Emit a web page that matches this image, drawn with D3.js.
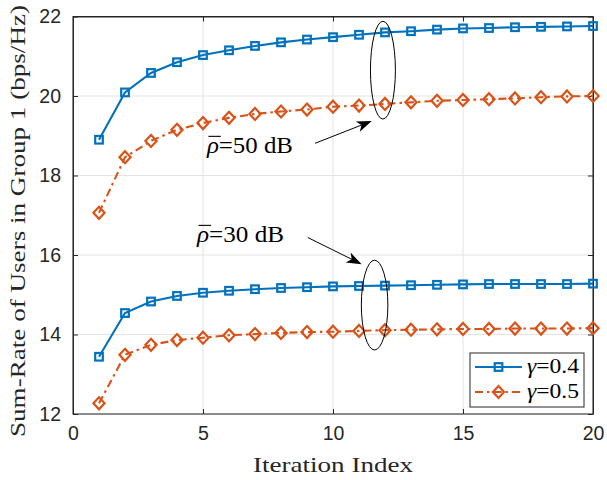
<!DOCTYPE html>
<html><head><meta charset="utf-8">
<script src="https://cdn.jsdelivr.net/npm/d3@7"></script>
<style>body{margin:0;background:#fff}</style>
</head><body>
<svg id="c" width="607" height="480"></svg>
<script>
const iterations = d3.range(1, 21);
const g04_50 = [18.90,20.09,20.58,20.85,21.03,21.15,21.26,21.35,21.42,21.48,21.54,21.60,21.63,21.67,21.70,21.71,21.73,21.74,21.75,21.76];
const g05_50 = [17.06,18.46,18.87,19.15,19.32,19.45,19.55,19.61,19.66,19.73,19.76,19.80,19.84,19.88,19.90,19.92,19.94,19.97,19.99,20.00];
const g04_30 = [13.44,14.54,14.83,14.97,15.05,15.10,15.14,15.17,15.19,15.21,15.22,15.23,15.24,15.25,15.26,15.27,15.27,15.27,15.27,15.28];
const g05_30 = [12.27,13.49,13.74,13.86,13.92,13.98,14.01,14.04,14.06,14.07,14.09,14.11,14.12,14.13,14.14,14.14,14.15,14.15,14.15,14.16];
const xTicks = [0,5,10,15,20];
const yTicks = [12,14,16,18,20,22];
const legendLabels = ["0.4","0.5"];

const svg = d3.select("#c");
const L=73, R=593, T=16.5, B=414;
const x = d3.scaleLinear().domain([0,20]).range([L,R]);
const y = d3.scaleLinear().domain([12,22]).range([B,T]);
const axisCol="#262626", gridCol="#e3e3e3";
const blue="#0072BD", orange="#D95319";
const sans="'Liberation Sans', Arial, sans-serif";
const serif="'Liberation Serif', 'DejaVu Serif', serif";

// grid
svg.append("g").selectAll("line").data(xTicks).join("line")
  .attr("x1",d=>x(d)).attr("x2",d=>x(d)).attr("y1",T).attr("y2",B)
  .attr("stroke",gridCol).attr("stroke-width",1);
svg.append("g").selectAll("line").data(yTicks).join("line")
  .attr("x1",L).attr("x2",R).attr("y1",d=>y(d)).attr("y2",d=>y(d))
  .attr("stroke",gridCol).attr("stroke-width",1);

// axes
const ax = svg.append("g").attr("transform",`translate(0,${B})`)
  .call(d3.axisBottom(x).tickValues(xTicks).tickSizeInner(-5).tickSizeOuter(0).tickPadding(12));
const ax2 = svg.append("g").attr("transform",`translate(0,${T})`)
  .call(d3.axisTop(x).tickValues(xTicks).tickSizeInner(-5).tickSizeOuter(0).tickFormat(""));
const ay = svg.append("g").attr("transform",`translate(${L},0)`)
  .call(d3.axisLeft(y).tickValues(yTicks).tickSizeInner(-5).tickSizeOuter(0).tickPadding(12));
const ay2 = svg.append("g").attr("transform",`translate(${R},0)`)
  .call(d3.axisRight(y).tickValues(yTicks).tickSizeInner(-5).tickSizeOuter(0).tickFormat(""));
[ax,ax2,ay,ay2].forEach(a=>{
  a.selectAll("path,line").attr("stroke",axisCol).attr("stroke-width",1);
  a.selectAll("text").attr("fill",axisCol).attr("font-family",sans).attr("font-size",19.5);
});
ax.selectAll("path.domain").remove();
svg.append("rect").attr("x",L).attr("y",T).attr("width",R-L).attr("height",B-T)
  .attr("fill","none").attr("stroke",axisCol).attr("stroke-width",1);

// series
const series = [
  {v:g04_50,c:blue,dash:null,m:"sq"},
  {v:g05_50,c:orange,dash:"8,4,2.5,4",m:"di"},
  {v:g04_30,c:blue,dash:null,m:"sq"},
  {v:g05_30,c:orange,dash:"8,4,2.5,4",m:"di"}
];
const line = d3.line().x((d,i)=>x(iterations[i])).y(d=>y(d));
function marker(g, m, c){
  if(m==="sq") g.append("rect").attr("x",-3.8).attr("y",-3.8).attr("width",7.6).attr("height",7.6)
      .attr("fill","none").attr("stroke",c).attr("stroke-width",2.2);
  else g.append("path").attr("d","M0,-6L5.6,0L0,6L-5.6,0Z")
      .attr("fill","none").attr("stroke",c).attr("stroke-width",2.2);
}
series.forEach(s=>{
  svg.append("path").datum(s.v).attr("d",line).attr("fill","none")
    .attr("stroke",s.c).attr("stroke-width",2.1).attr("stroke-dasharray",s.dash);
  s.v.forEach((d,i)=>{
    const g=svg.append("g").attr("transform",`translate(${x(iterations[i])},${y(d)})`);
    marker(g,s.m,s.c);
  });
});

// annotations
function ellipse(cx,cy,rx,ry){
  svg.append("ellipse").attr("cx",x(cx)).attr("cy",y(cy))
    .attr("rx",x(rx)-x(0)).attr("ry",y(0)-y(ry))
    .attr("fill","none").attr("stroke","#000").attr("stroke-width",1);
}
ellipse(11.92,20.65,0.48,1.23);
ellipse(11.6,14.74,0.51,1.13);
function arrow(x0,y0,x1,y1){
  const X0=x(x0),Y0=y(y0),X1=x(x1),Y1=y(y1);
  const ang=Math.atan2(Y1-Y0,X1-X0);
  const len=15, w=5.5, notch=4;
  svg.append("line").attr("x1",X0).attr("y1",Y0)
    .attr("x2",X1-Math.cos(ang)*len*0.7).attr("y2",Y1-Math.sin(ang)*len*0.7)
    .attr("stroke","#000").attr("stroke-width",1);
  const pts=[[0,0],[-len,-w],[-len+notch,0],[-len,w]].map(([a,b])=>
    [X1+a*Math.cos(ang)-b*Math.sin(ang), Y1+a*Math.sin(ang)+b*Math.cos(ang)]);
  svg.append("path").attr("d","M"+pts.join("L")+"Z").attr("fill","#000");
}
arrow(9.31,18.81,11.49,19.37);
arrow(9.03,16.44,11.10,15.77);
function rhoLabel(px,py,txt,len){
  const t=svg.append("text").attr("x",x(px)).attr("y",y(py))
    .attr("font-family",serif).attr("font-size",23).attr("fill","#000")
    .attr("textLength",len).attr("lengthAdjust","spacingAndGlyphs");
  t.append("tspan").attr("font-style","italic").text("ρ");
  t.append("tspan").text("="+txt+" dB");
  const w=t.node().getSubStringLength(0,1);
  svg.append("line").attr("x1",x(px)+1.5).attr("x2",x(px)+w+2)
    .attr("y1",y(py)-16.5).attr("y2",y(py)-16.5).attr("stroke","#000").attr("stroke-width",1.1);
}
rhoLabel(5.15,18.57,"50",86);
rhoLabel(4.77,16.33,"30",87);

// axis labels
svg.append("text").attr("x",(L+R)/2).attr("y",472).attr("text-anchor","middle")
  .attr("font-family",serif).attr("font-size",22).attr("fill",axisCol)
  .attr("textLength",160).attr("lengthAdjust","spacingAndGlyphs").text("Iteration Index");
svg.append("text").attr("transform",`translate(25,221) rotate(-90)`).attr("text-anchor","middle")
  .attr("font-family",serif).attr("font-size",21).attr("fill",axisCol)
  .attr("textLength",432).attr("lengthAdjust","spacingAndGlyphs")
  .text("Sum-Rate of Users in Group 1 (bps/Hz)");

// legend
const lg=svg.append("g");
lg.append("rect").attr("x",470).attr("y",353).attr("width",114).attr("height",54)
  .attr("fill","#fff").attr("stroke",axisCol).attr("stroke-width",1);
[{c:blue,dash:null,m:"sq"},{c:orange,dash:"8,4,2.5,4",m:"di"}].forEach((s,i)=>{
  const yy=367+i*25;
  lg.append("line").attr("x1",475).attr("x2",522).attr("y1",yy).attr("y2",yy)
    .attr("stroke",s.c).attr("stroke-width",2.1).attr("stroke-dasharray",s.dash);
  marker(lg.append("g").attr("transform",`translate(498.5,${yy})`),s.m,s.c);
  const t=lg.append("text").attr("x",527).attr("y",yy+6).attr("font-family",serif)
    .attr("font-size",21).attr("fill","#000")
    .attr("textLength",52).attr("lengthAdjust","spacingAndGlyphs");
  t.append("tspan").attr("font-style","italic").text("γ");
  t.append("tspan").text("="+legendLabels[i]);
});
</script>
</body></html>
